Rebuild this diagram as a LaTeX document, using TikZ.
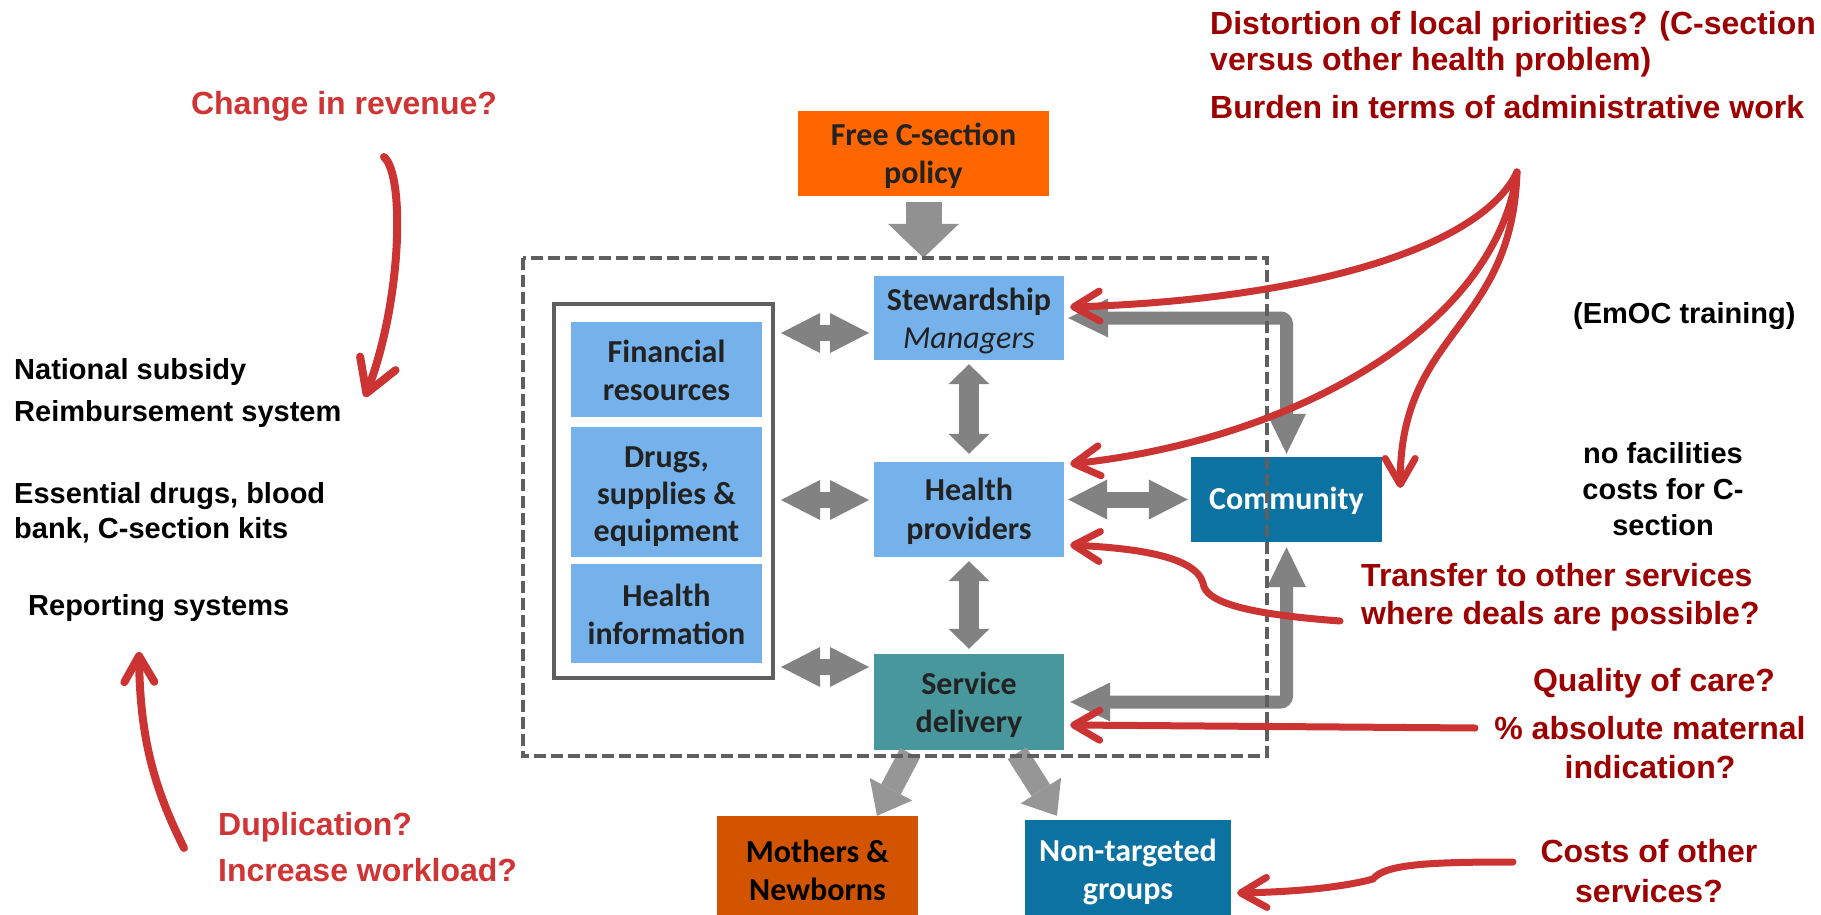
\documentclass[tikz,border=0pt]{standalone}
\usepackage{fontspec}
\usetikzlibrary{arrows.meta,calc}
\newfontfamily\arl{Liberation Sans}
\newfontfamily\calib{Carlito}
\newcommand\bxtext[2]{\raisebox{-#1}[\height][\depth]{\begin{tabular}{@{}c@{}}#2\end{tabular}}}
\definecolor{orangeF}{RGB}{255,102,0}
\definecolor{lblue}{RGB}{117,178,236}
\definecolor{tealC}{RGB}{72,151,157}
\definecolor{cblue}{RGB}{12,114,162}
\definecolor{mothC}{RGB}{211,84,0}
\definecolor{grayA}{RGB}{130,130,130}
\definecolor{grayB}{RGB}{145,145,145}
\definecolor{grayC}{RGB}{150,150,150}
\definecolor{dgray}{RGB}{95,95,95}
\definecolor{redA}{RGB}{204,51,51}
\definecolor{redL}{RGB}{208,52,52}
\definecolor{redD}{RGB}{156,0,0}
\definecolor{txtdark}{RGB}{34,34,34}
\begin{document}
\begin{tikzpicture}[x=1pt,y=-1pt,
  box/.style={rectangle, inner sep=0pt, align=center, font=\calib\bfseries\fontsize{32}{38.4}\selectfont, text=txtdark},
  blk/.style={inner sep=0pt, font=\arl\bfseries\fontsize{29}{35}\selectfont, text=black},
  redl/.style={inner sep=0pt, font=\arl\bfseries\fontsize{32}{45}\selectfont, text=redL},
  redd/.style={inner sep=0pt, font=\arl\bfseries\fontsize{32}{38.5}\selectfont, text=redD},
  hdbl/.style={draw=grayA, line width=16pt, arrows={Triangle[length=39pt,width=40pt,line width=0pt]-Triangle[length=39pt,width=40pt,line width=0pt]}},
  vdbl/.style={draw=grayA, line width=20pt, arrows={Triangle[length=20pt,width=41pt,line width=0pt]-Triangle[length=20pt,width=41pt,line width=0pt]}},
  elbow/.style={draw=grayA, line width=13pt, rounded corners=6pt, arrows={Triangle[length=40pt,width=39pt,line width=0pt]-Triangle[length=40pt,width=39pt,line width=0pt]}},
  freearrow/.style={draw=grayB, line width=36pt, arrows={-Triangle[length=34pt,width=71pt,line width=0pt]}},
  botarrow/.style={draw=grayC, line width=22pt, arrows={-Triangle[length=30pt,width=48pt,line width=0pt]}},
  dashbox/.style={draw=dgray, line width=4pt, dash pattern=on 12pt off 5pt},
  redarrow/.style={draw=redA, line width=7pt, line cap=round, arrows={-Straight Barb[length=26pt,width=30pt,round]}},
  redarrowL/.style={draw=redA, line width=8pt, line cap=round, arrows={-Straight Barb[length=32pt,width=38pt,round]}},
]
\useasboundingbox (0,0) rectangle (1821,915);
\fill[white] (0,0) rectangle (1821,915);

% frame (coordinates only)
\path node[minimum width=744pt, minimum height=498pt, inner sep=0pt] (sys) at (895,507) {};

% boxes
\node[box, fill=orangeF, minimum width=251pt, minimum height=85pt] (free) at (923.5,153.5) {\bxtext{3.5pt}{Free C-section\\policy}};
\node[box, fill=lblue, minimum width=190pt, minimum height=84pt] (stew) at (969,318) {\bxtext{4pt}{Stewardship\\{\mdseries\itshape Managers}}};
\node[box, fill=lblue, minimum width=190pt, minimum height=95pt] (hp) at (969,509.5) {\bxtext{3pt}{Health\\providers}};
\node[box, fill=tealC, minimum width=190pt, minimum height=96pt] (sd) at (969,702) {\bxtext{4pt}{Service\\delivery}};
\node[box, fill=cblue, text=white, minimum width=191pt, minimum height=85pt] (comm) at (1286.5,499.5) {\bxtext{2.5pt}{Community}};
\node[draw=dgray, line width=3.5pt, fill=white, minimum width=219pt, minimum height=374pt, inner sep=0pt] (inner) at (663.5,491) {};
\node[box, fill=lblue, minimum width=191pt, minimum height=95pt] (fin) at (666.5,369.5) {\bxtext{4.5pt}{Financial\\resources}};
\node[box, fill=lblue, minimum width=191pt, minimum height=130pt, font=\calib\bfseries\fontsize{32}{37}\selectfont] (drugs) at (666.5,492) {\bxtext{5pt}{Drugs,\\supplies \&\\equipment}};
\node[box, fill=lblue, minimum width=191pt, minimum height=99pt] (hinfo) at (666.5,613.5) {\bxtext{4.5pt}{Health\\information}};
\node[box, fill=mothC, text=black, minimum width=201pt, minimum height=110pt] (moth) at (817.5,871) {\bxtext{3pt}{Mothers \&\\Newborns}};
\node[box, fill=cblue, text=white, minimum width=206pt, minimum height=106pt] (nont) at (1128,873) {\bxtext{0pt}{Non-targeted\\groups}};

% grey arrows
\coordinate (l1) at (781,333); \coordinate (r1) at (869,333);
\coordinate (l2) at (781,500); \coordinate (r2) at (869,500);
\coordinate (l3) at (781,667); \coordinate (r3) at (869,667);
\draw[hdbl] (l1) -- (r1);
\draw[hdbl] (l2) -- (r2);
\draw[hdbl] (l3) -- (r3);
\draw[hdbl] ([xshift=4pt]hp.east |- comm.west) -- ([xshift=-3pt]comm.west);
\draw[vdbl] ([yshift=-4pt]stew.south) -- ([yshift=8pt]hp.north);
\draw[vdbl] ([yshift=-4pt]hp.south) -- ([yshift=5pt]sd.north);
\draw[elbow] ([xshift=4pt]stew.east) -| ([yshift=3pt]comm.north);
\draw[elbow] ([xshift=6pt]sd.east) -| ([yshift=-5pt]comm.south);
\draw[freearrow] ([yshift=-6pt]free.south) -- (free.south |- sys.north);
\draw[botarrow] ([shift={(-59pt,-3pt)}]sd.south) -- ([xshift=59.5pt]moth.north);
\draw[botarrow] ([shift={(48pt,-3pt)}]sd.south) -- ([shift={(-71pt,4pt)}]nont.north);

% dashed system frame
\draw[dashbox] (sys.north west) rectangle (sys.south east);

% red arrows
\coordinate (burden) at (1517,172);
\draw[redarrow] (burden) .. controls (1480,250) and (1300,300) .. ([shift={(6pt,11pt)}]stew.east);
\draw[redarrow] (burden) .. controls (1495,330) and (1290,440) .. ([shift={(6pt,45.5pt)}]hp.east);
\draw[redarrow] (burden) .. controls (1512,330) and (1400,330) .. ([shift={(18pt,11.5pt)}]comm.east);
\coordinate (trs) at (1340,621);
\draw[redarrow] (trs) .. controls (1260,615) and (1205,605) .. (1203,583) .. controls (1195,555) and (1130,548) .. ([shift={(6pt,-35.5pt)}]hp.east);
\coordinate (pab) at (1475,728);
\draw[redarrow] (pab) -- ([shift={(6pt,-23pt)}]sd.east);
\coordinate (cst) at (1513,862);
\draw[redarrow] (cst) .. controls (1430,862) and (1385,864) .. (1373,879) .. controls (1340,888) and (1290,892) .. ([shift={(6pt,-20pt)}]nont.east);
\coordinate (rv1) at (384,157); \coordinate (rv2) at (365,397);
\draw[redarrowL] (rv1) .. controls (405,175) and (402,300) .. (rv2);
\coordinate (dp1) at (184,848); \coordinate (dp2) at (139,652);
\draw[redarrow, line width=8pt] (dp1) .. controls (155,790) and (140,740) .. (dp2);

% texts
\node[blk, anchor=west] (ns) at (14,372) {National subsidy};
\node[blk, anchor=west] (rs) at (14,414) {Reimbursement system};
\node[blk, anchor=west, align=left] (ed) at (14,512.5) {Essential drugs, blood\\bank, C-section kits};
\node[blk, anchor=west] (rep) at (28,608.5) {Reporting systems};
\node[redl] (chg) at (344,106) {Change in revenue?};
\node[redl, anchor=west] (dup) at (218,827) {Duplication?};
\node[redl, anchor=west] (inc) at (218,870) {Increase workload?};
\node[redd, anchor=west, align=left, font=\arl\bfseries\fontsize{32}{36.5}\selectfont] (dist) at (1210,44) {Distortion of local priorities? (C-section\\versus other health problem)};
\node[redd, anchor=west] (bur) at (1210,107) {Burden in terms of administrative work};
\node[blk, anchor=west] (emoc) at (1573,316.5) {(EmOC training)};
\node[blk, align=center, font=\arl\bfseries\fontsize{29}{36}\selectfont] (nofac) at (1663,489) {no facilities\\costs for C-\\section};
\node[redd, anchor=west, align=left] (trans) at (1361,597) {Transfer to other services\\where deals are possible?};
\node[redd] (qual) at (1654,683.5) {Quality of care?};
\node[redd, align=center, font=\arl\bfseries\fontsize{32}{39}\selectfont] (pabs) at (1650,747.5) {\% absolute maternal\\indication?};
\node[redd, align=center, font=\arl\bfseries\fontsize{32}{40}\selectfont] (costs) at (1649,871) {Costs of other\\services?};
\end{tikzpicture}
\end{document}
